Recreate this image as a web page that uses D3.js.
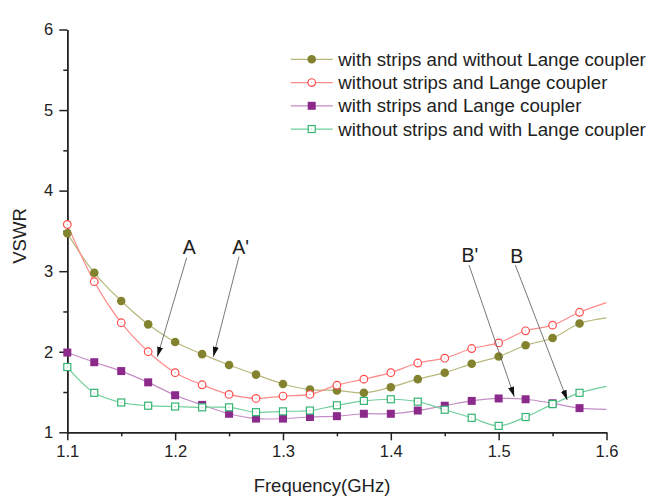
<!DOCTYPE html>
<html>
<head>
<meta charset="utf-8">
<script src="https://cdn.jsdelivr.net/npm/d3@7"></script>
<style>
    body { margin: 0; background: #fff; }
    svg { display: block; font-family: "Liberation Sans", Arial, sans-serif; }
</style>
</head>
<body>
<div id="chart"></div>
<script>
// frequency points (GHz)
var freq = [1.1, 1.125, 1.15, 1.175, 1.2, 1.225, 1.25, 1.275, 1.3, 1.325, 1.35,
    1.375, 1.4, 1.425, 1.45, 1.475, 1.5, 1.525, 1.55, 1.575, 1.6];

// VSWR of each configuration
var stripsNoLange = [3.47, 2.98, 2.63, 2.34, 2.12, 1.97, 1.835, 1.716, 1.60, 1.53, 1.52,
    1.49, 1.56, 1.66, 1.74, 1.85, 1.94, 2.08, 2.17, 2.35, 2.42];
var noStripsNoLange = [3.58, 2.87, 2.36, 2.00, 1.74, 1.59, 1.47, 1.42, 1.45, 1.47, 1.585,
    1.66, 1.74, 1.86, 1.92, 2.04, 2.11, 2.26, 2.33, 2.49, 2.61];
var stripsLange = [1.99, 1.87, 1.76, 1.62, 1.46, 1.34, 1.23, 1.17, 1.17, 1.19, 1.20,
    1.23, 1.23, 1.27, 1.33, 1.39, 1.42, 1.41, 1.36, 1.30, 1.285];
var noStripsLange = [1.81, 1.49, 1.37, 1.33, 1.32, 1.31, 1.31, 1.25, 1.26, 1.27, 1.335,
    1.39, 1.41, 1.38, 1.28, 1.18, 1.08, 1.19, 1.35, 1.49, 1.57];

var seriesNames = ["with strips and without Lange coupler", "without strips and Lange coupler",
    "with strips and Lange coupler", "without strips and with Lange coupler"];

var xTicks = [1.1, 1.2, 1.3, 1.4, 1.5, 1.6];
var xMinorTicks = [1.15, 1.25, 1.35, 1.45, 1.55];
var yTicks = [1, 2, 3, 4, 5, 6];
var yMinorTicks = [1.5, 2.5, 3.5, 4.5, 5.5];

// annotation arrows: label, tail and head in data units
var notes = [
    { label: "A", lx: 1.2131, ly: 3.213, x1: 1.2107, y1: 3.167, x2: 1.1835, y2: 1.938 },
    { label: "A'", lx: 1.2608, ly: 3.213, x1: 1.2592, y1: 3.18, x2: 1.2354, y2: 1.938 },
    { label: "B'", lx: 1.4734, ly: 3.11, x1: 1.4725, y1: 3.077, x2: 1.5145, y2: 1.442 },
    { label: "B", lx: 1.5167, ly: 3.10, x1: 1.5154, y1: 3.077, x2: 1.5636, y2: 1.40 }
];

var W = 653, H = 498;
var margin = { top: 29.5, right: 46.5, bottom: 65.7, left: 67.3 };
var width = W - margin.left - margin.right,
    height = H - margin.top - margin.bottom;

var styles = [
    { line: "#b8b87e", mark: "#83832f", shape: "circle", filled: true },
    { line: "#ff8c8c", mark: "#ff4b4b", shape: "circle", filled: false },
    { line: "#c48cc4", mark: "#8c2a8c", shape: "square", filled: true },
    { line: "#70cf9c", mark: "#35b572", shape: "square", filled: false }
];
var allSeries = [stripsNoLange, noStripsNoLange, stripsLange, noStripsLange];

var svg = d3.select("#chart").append("svg")
    .attr("width", W)
    .attr("height", H);

var g = svg.append("g")
    .attr("transform", "translate(" + margin.left + "," + margin.top + ")");

var x = d3.scaleLinear().domain([1.1, 1.6]).range([0, width]);
var y = d3.scaleLinear().domain([1, 6]).range([height, 0]);

// axes
g.append("g")
    .attr("transform", "translate(0," + height + ")")
    .call(d3.axisBottom(x).tickValues(xTicks).tickFormat(d3.format(".1f"))
        .tickSize(8).tickSizeOuter(0).tickPadding(5));
g.append("g")
    .attr("transform", "translate(0," + height + ")")
    .call(d3.axisBottom(x).tickValues(xMinorTicks).tickFormat("").tickSize(4).tickSizeOuter(0));

g.append("g")
    .call(d3.axisLeft(y).tickValues(yTicks).tickFormat(d3.format("d"))
        .tickSize(8).tickSizeOuter(0).tickPadding(6));
g.append("g")
    .call(d3.axisLeft(y).tickValues(yMinorTicks).tickFormat("").tickSize(4).tickSizeOuter(0));

g.selectAll(".domain, .tick line").attr("stroke", "#222").attr("stroke-width", 1.5);
g.selectAll(".tick text").attr("fill", "#222").style("font-size", "16.5px")
    .style("font-family", "Liberation Sans, Arial, sans-serif");

// axis titles
svg.append("text")
    .attr("x", 322).attr("y", 492)
    .attr("text-anchor", "middle")
    .attr("fill", "#222")
    .style("font-size", "18.5px")
    .text("Frequency(GHz)");
svg.append("text")
    .attr("transform", "translate(26,236)rotate(-90)")
    .attr("text-anchor", "middle")
    .attr("fill", "#222")
    .style("font-size", "18.5px")
    .text("VSWR");

// curves
var line = d3.line()
    .x(function (d, i) { return x(freq[i]); })
    .y(function (d) { return y(d); })
    .curve(d3.curveCatmullRom.alpha(0.5));

function drawMarker(sel, st, cx, cy) {
    if (st.shape === "circle") {
        sel.append("circle").attr("cx", cx).attr("cy", cy).attr("r", st.filled ? 4.3 : 3.8)
            .attr("fill", st.filled ? st.mark : "#fff")
            .attr("stroke", st.mark).attr("stroke-width", st.filled ? 0 : 1.2);
    } else {
        var s = st.filled ? 8 : 7;
        sel.append("rect").attr("x", cx - s / 2).attr("y", cy - s / 2)
            .attr("width", s).attr("height", s)
            .attr("fill", st.filled ? st.mark : "#fff")
            .attr("stroke", st.mark).attr("stroke-width", st.filled ? 0 : 1.2);
    }
    if (!st.filled) {
        sel.append("rect").attr("x", cx - 0.5).attr("y", cy - 0.5)
            .attr("width", 1).attr("height", 1).attr("fill", st.mark).attr("opacity", 0.6);
    }
}

allSeries.forEach(function (vals, k) {
    var st = styles[k];
    g.append("path")
        .datum(vals)
        .attr("fill", "none")
        .attr("stroke", st.line)
        .attr("stroke-width", 1.2)
        .attr("d", line);
});
allSeries.forEach(function (vals, k) {
    var st = styles[k];
    var mg = g.append("g");
    vals.forEach(function (v, i) {
        if (freq[i] > 1.59) return; // curve ends at 1.6 without a marker
        drawMarker(mg, st, x(freq[i]), y(v));
    });
});

// legend
var legend = svg.append("g").attr("transform", "translate(290.7,59.3)");
seriesNames.forEach(function (name, k) {
    var st = styles[k];
    var row = legend.append("g").attr("transform", "translate(0," + (k * 23.25) + ")");
    row.append("line").attr("x1", 0).attr("x2", 42).attr("y1", 0).attr("y2", 0)
        .attr("stroke", st.line).attr("stroke-width", 1.2);
    drawMarker(row, st, 21, 0);
    row.append("text").attr("x", 47.6).attr("y", 0).attr("dy", "0.35em")
        .attr("fill", "#222").style("font-size", "18.7px").text(name);
});

// annotation arrows
svg.append("defs").append("marker")
    .attr("id", "head")
    .attr("viewBox", "0 0 10 6")
    .attr("refX", 10).attr("refY", 3)
    .attr("markerWidth", 10).attr("markerHeight", 6)
    .attr("markerUnits", "userSpaceOnUse")
    .attr("orient", "auto")
    .append("path").attr("d", "M0,0L10,3L0,6Z").attr("fill", "#111");

var ann = g.append("g");
notes.forEach(function (n) {
    ann.append("line")
        .attr("x1", x(n.x1)).attr("y1", y(n.y1))
        .attr("x2", x(n.x2)).attr("y2", y(n.y2))
        .attr("stroke", "#555").attr("stroke-width", 0.8)
        .attr("marker-end", "url(#head)");
    ann.append("text")
        .attr("x", x(n.lx)).attr("y", y(n.ly))
        .attr("text-anchor", "middle")
        .attr("fill", "#222")
        .style("font-size", "19.5px")
        .text(n.label);
});
</script>
</body>
</html>
